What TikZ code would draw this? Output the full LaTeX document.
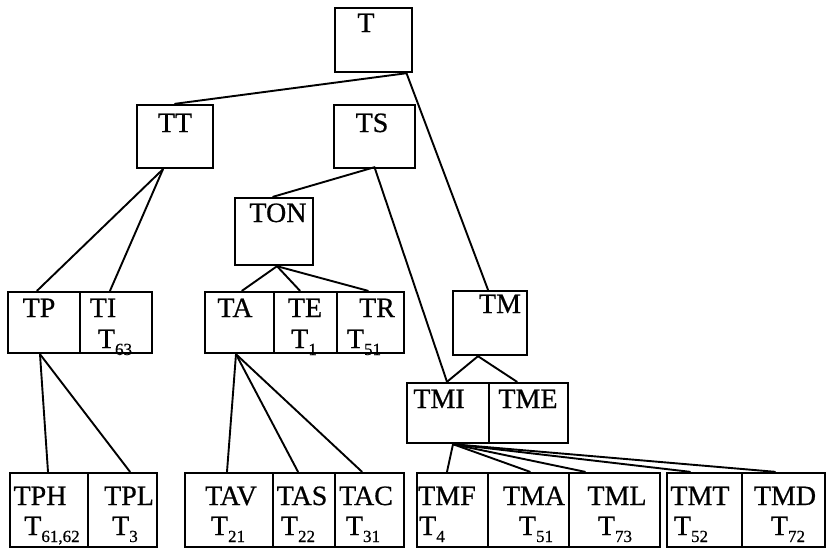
\documentclass[tikz,border=0pt]{standalone}
\usepackage{fontspec}
\setmainfont{Liberation Serif}
\newfontfamily\lblfont[FakeBold=0.6]{Liberation Serif}
\usetikzlibrary{fit}
\newcommand\subnum[1]{\raisebox{-7pt}{\fontsize{17}{17}\selectfont #1}}
\tikzset{
  box/.style={draw, line width=2.4pt, inner sep=0pt, rectangle},
  lbl/.style={inner sep=0pt, anchor=base, font=\lblfont\fontsize{28}{28}\selectfont},
  edge/.style={line width=1.9pt, line cap=round}
}
\begin{document}
\begin{tikzpicture}[x=1pt, y=-1pt]
\useasboundingbox (0,0) rectangle (828,550);
% boxes
\node[box, fit={(335,8) (412,72)}] (T) {};
\node[box, fit={(137,105) (213,168)}] (TT) {};
\node[box, fit={(334,105) (415,168)}] (TS) {};
\node[box, fit={(235,198) (313,265)}] (TON) {};
\node[box, fit={(8,292) (80,353)}] (TP) {};
\node[box, fit={(80,292) (152,353)}] (TI) {};
\node[box, fit={(205,292) (274,353)}] (TA) {};
\node[box, fit={(274,292) (337,353)}] (TE) {};
\node[box, fit={(337,292) (404,353)}] (TR) {};
\node[box, fit={(453,291) (527,355)}] (TM) {};
\node[box, fit={(407,383) (489,443)}] (TMI) {};
\node[box, fit={(489,383) (568,443)}] (TME) {};
\node[box, fit={(10,473) (88,547)}] (TPH) {};
\node[box, fit={(88,473) (157,547)}] (TPL) {};
\node[box, fit={(185,473) (273,547)}] (TAV) {};
\node[box, fit={(273,473) (335,547)}] (TAS) {};
\node[box, fit={(335,473) (404,547)}] (TAC) {};
\node[box, fit={(417,473) (488,547)}] (TMF) {};
\node[box, fit={(488,473) (569,547)}] (TMA) {};
\node[box, fit={(569,473) (660,547)}] (TML) {};
\node[box, fit={(667,473) (742,547)}] (TMT) {};
\node[box, fit={(742,473) (825,547)}] (TMD) {};
% labels
\node[lbl] (lT) at (366,32) {T};
\node[lbl] (lTT) at (175,132) {TT};
\node[lbl] (lTS) at (372,132) {TS};
\node[lbl] (lTON) at (278,222) {TON};
\node[lbl] (lTP) at (39,317) {TP};
\node[lbl] (lTI) at (103,317) {TI};
\node[lbl] (sTI) at (115,348) {T\subnum{63}};
\node[lbl] (lTA) at (235,317) {TA};
\node[lbl] (lTE) at (305,317) {TE};
\node[lbl] (sTE) at (304,348) {T\subnum{1}};
\node[lbl] (lTR) at (377,317) {TR};
\node[lbl] (sTR) at (364,348) {T\subnum{51}};
\node[lbl] (lTM) at (500,313) {TM};
\node[lbl] (lTMI) at (439,408) {TMI};
\node[lbl] (lTME) at (528,408) {TME};
\node[lbl] (lTPH) at (40,505) {TPH};
\node[lbl] (sTPH) at (52,535) {T\subnum{61,62}};
\node[lbl] (lTPL) at (129,505) {TPL};
\node[lbl] (sTPL) at (125,535) {T\subnum{3}};
\node[lbl] (lTAV) at (231,505) {TAV};
\node[lbl] (sTAV) at (228,535) {T\subnum{21}};
\node[lbl] (lTAS) at (302,505) {TAS};
\node[lbl] (sTAS) at (298,535) {T\subnum{22}};
\node[lbl] (lTAC) at (366,505) {TAC};
\node[lbl] (sTAC) at (363,535) {T\subnum{31}};
\node[lbl] (lTMF) at (447,505) {TMF};
\node[lbl] (sTMF) at (432,535) {T\subnum{4}};
\node[lbl] (lTMA) at (534,505) {TMA};
\node[lbl] (sTMA) at (536,535) {T\subnum{51}};
\node[lbl] (lTML) at (617,505) {TML};
\node[lbl] (sTML) at (615,535) {T\subnum{73}};
\node[lbl] (lTMT) at (700,505) {TMT};
\node[lbl] (sTMT) at (691,535) {T\subnum{52}};
\node[lbl] (lTMD) at (785,505) {TMD};
\node[lbl] (sTMD) at (788,535) {T\subnum{72}};
% connectors
\coordinate (Tb) at ([xshift=33pt]T.south);
\draw[edge] (Tb) -- ([xshift=0pt]TT.north);
\draw[edge] (Tb) -- (TM.north -| 488,0);
\coordinate (TTb) at ([xshift=-12pt]TT.south);
\draw[edge] (TTb) -- (TP.north -| 37,0);
\draw[edge] (TTb) -- (TI.north -| 110,0);
\coordinate (TSb) at ([yshift=2pt]TS.south);
\draw[edge] (TSb) -- (TON.north -| 273,0);
\draw[edge] (TSb) -- (TMI.north -| 447,0);
\coordinate (TONb) at (TON.south -| 277,0);
\draw[edge] (TONb) -- (TA.north -| 242,0);
\draw[edge] (TONb) -- (TE.north -| 300,0);
\draw[edge] (TONb) -- (TR.north -| 368,0);
\coordinate (TMb) at (TM.south -| 478,0);
\draw[edge] (TMb) -- (TMI.north -| 447,0);
\draw[edge] (TMb) -- (TME.north -| 517,0);
\coordinate (TPb) at (TP.south -| 40,0);
\draw[edge] (TPb) -- (TPH.north -| 48,0);
\draw[edge] (TPb) -- (TPL.north -| 130,0);
\coordinate (TAb) at (TA.south -| 236,0);
\draw[edge] (TAb) -- (TAV.north -| 227,0);
\draw[edge] (TAb) -- (TAS.north -| 298,0);
\draw[edge] (TAb) -- (TAC.north -| 362,0);
\coordinate (TMIb) at (TMI.south -| 453,0);
\draw[edge] (TMIb) -- (TMF.north -| 447,0);
\draw[edge] (TMIb) -- (TMA.north -| 530,0);
\draw[edge] (TMIb) -- (TML.north -| 585,0);
\draw[edge] (TMIb) -- (TMT.north -| 690,0);
\draw[edge] (TMIb) -- (TMD.north -| 775,0);
\end{tikzpicture}
\end{document}
